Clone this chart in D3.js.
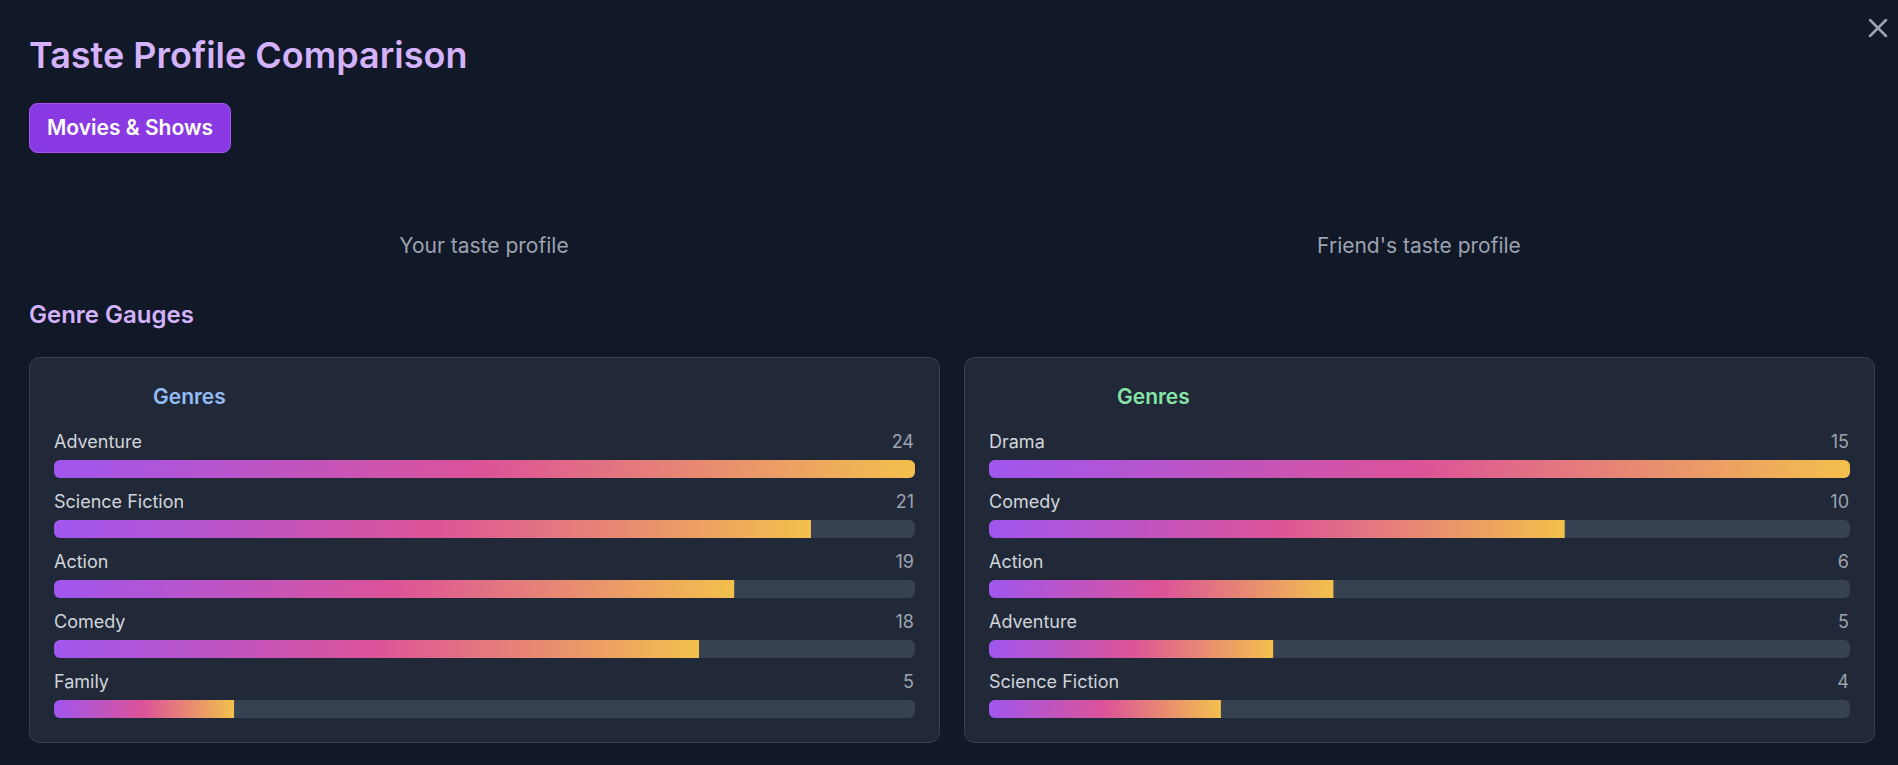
<!DOCTYPE html>
<html>
<head>
<meta charset="utf-8">
<title>Taste Profile Comparison</title>
<script src="https://cdn.jsdelivr.net/npm/d3@7"></script>
<style>
  html, body { margin: 0; padding: 0; background: #111827; overflow: hidden; }
  svg { display: block; font-family: Inter, sans-serif; }
</style>
</head>
<body>
<div id="chart"></div>
<script>
// Values
const yourGenres = ["Adventure", "Science Fiction", "Action", "Comedy", "Family"];
const yourLabels = [24, 21, 19, 18, 5];
const yourBars = [24, 21.1, 18.96, 17.98, 5.02];

const friendGenres = ["Drama", "Comedy", "Action", "Adventure", "Science Fiction"];
const friendLabels = [15, 10, 6, 5, 4];
const friendBars = [15, 10.03, 6, 4.95, 4.04];

const WIDTH = 1898;
const HEIGHT = 765;

const svg = d3.select("#chart").append("svg")
    .attr("width", WIDTH)
    .attr("height", HEIGHT);

const defs = svg.append("defs");

// Page text
function addText(x, y, str, size, weight, color, anchor) {
    return svg.append("text")
        .attr("x", x)
        .attr("y", y)
        .attr("font-size", size)
        .attr("font-weight", weight)
        .attr("fill", color)
        .attr("text-anchor", anchor || "start")
        .text(str);
}

addText(29, 68, "Taste Profile Comparison", 36, 600, "#d4b2fc");

svg.append("rect")
    .attr("x", 29.5).attr("y", 103.5)
    .attr("width", 201).attr("height", 49)
    .attr("rx", 8)
    .attr("fill", "#8a3ae2")
    .attr("stroke", "#a855f7")
    .attr("stroke-width", 1);
addText(130, 135, "Movies & Shows", 21, 600, "#ffffff", "middle");

addText(484, 253, "Your taste profile", 21, 400, "#9ca3af", "middle");
addText(1419, 253, "Friend's taste profile", 21, 400, "#9ca3af", "middle");
addText(29, 323, "Genre Gauges", 24, 600, "#d4b2fc");

// Close icon
svg.append("path")
    .attr("d", "M1870 20L1886 36M1886 20L1870 36")
    .attr("stroke", "#9ca3af")
    .attr("stroke-width", 2.5)
    .attr("stroke-linecap", "round");

function drawCard(id, left, titleX, titleColor, genres, labels, bars) {
    const card = svg.append("g").attr("transform", "translate(" + left + ",357)");

    card.append("rect")
        .attr("x", 0.5).attr("y", 0.5)
        .attr("width", 910).attr("height", 385)
        .attr("rx", 10)
        .attr("fill", "#212938")
        .attr("stroke", "#374151");

    card.append("text")
        .attr("x", titleX).attr("y", 47)
        .attr("font-size", 21)
        .attr("font-weight", 600)
        .attr("fill", titleColor)
        .text("Genres");

    const xScale = d3.scaleLinear()
        .domain([0, d3.max(bars)])
        .range([0, 861]);

    const yScale = d3.scaleBand()
        .domain(genres)
        .range([103, 403]);

    const rows = card.selectAll(".row")
        .data(genres)
        .enter()
        .append("g")
        .attr("class", "row")
        .attr("transform", (d) => "translate(25," + yScale(d) + ")");

    rows.append("text")
        .attr("y", -12)
        .attr("font-size", 18)
        .attr("fill", "#d1d5db")
        .text((d) => d);

    rows.append("text")
        .attr("x", 860)
        .attr("y", -12)
        .attr("font-size", 18)
        .attr("fill", "#9ca3af")
        .attr("text-anchor", "end")
        .text((d, i) => labels[i]);

    rows.append("rect")
        .attr("width", 861)
        .attr("height", 18)
        .attr("rx", 6)
        .attr("fill", "#364152");

    // bar fill is cut by the rounded track, the gradient spans each fill
    const clip = defs.append("clipPath").attr("id", "clip-" + id);
    clip.append("rect").attr("width", 861).attr("height", 18).attr("rx", 6);

    bars.forEach((c, i) => {
        const grad = defs.append("linearGradient")
            .attr("id", "grad-" + id + "-" + i)
            .attr("gradientUnits", "objectBoundingBox");
        grad.append("stop").attr("offset", "0%").attr("stop-color", "#a056ee");
        grad.append("stop").attr("offset", "50%").attr("stop-color", "#dc5398");
        grad.append("stop").attr("offset", "100%").attr("stop-color", "#f3c04c");
    });

    rows.append("g")
        .attr("clip-path", "url(#clip-" + id + ")")
        .append("rect")
        .attr("width", (d, i) => xScale(bars[i]))
        .attr("height", 18)
        .attr("fill", (d, i) => "url(#grad-" + id + "-" + i + ")");
}

drawCard("you", 29, 124, "#93bdf5", yourGenres, yourLabels, yourBars);
drawCard("friend", 964, 153, "#86e5a6", friendGenres, friendLabels, friendBars);
</script>
</body>
</html>
